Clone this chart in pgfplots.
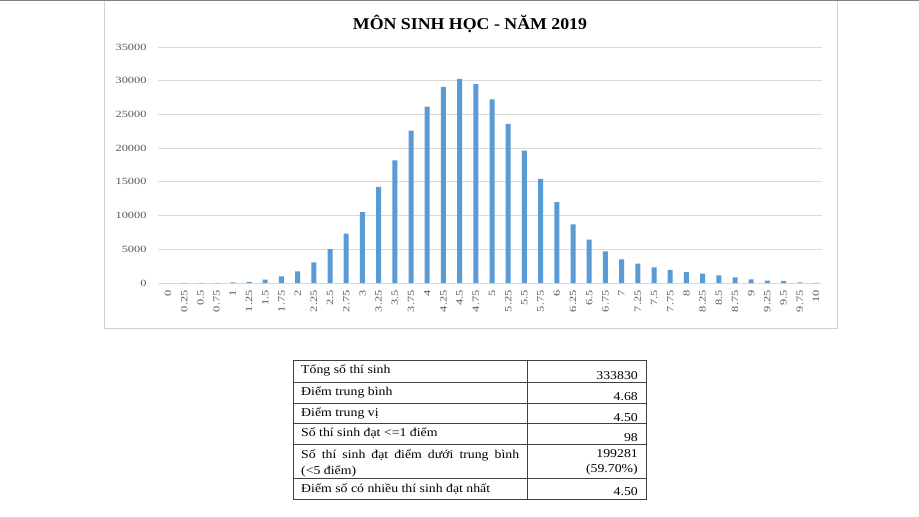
\documentclass[border=0pt]{standalone}
\usepackage{fontspec}
\usepackage{pgfplots}
\usepackage{pgfplotstable}
\pgfplotsset{compat=1.18}
\setmainfont{Liberation Serif}
\newfontfamily\chartfont[FakeStretch=1.3]{Liberation Serif}
\newfontfamily\tabfont[FakeStretch=1.15]{Liberation Serif}
\newfontfamily\titlefont[FakeStretch=1.08]{Liberation Serif}
\definecolor{barblue}{HTML}{5B9BD5}
\definecolor{gridgray}{HTML}{D9D9D9}
\definecolor{ticktext}{HTML}{595959}

% so diem theo tung muc diem (0, 0.25, ..., 10)
\pgfplotstableread{
idx count
0 0
1 2
2 4
3 12
4 80
5 160
6 500
7 1000
8 1730
9 3070
10 5040
11 7320
12 10530
13 14240
14 18200
15 22600
16 26150
17 29070
18 30260
19 29500
20 27250
21 23590
22 19630
23 15430
24 12010
25 8700
26 6430
27 4700
28 3510
29 2870
30 2320
31 1930
32 1630
33 1380
34 1140
35 840
36 540
37 350
38 300
39 100
40 10
}\sinhdata

\begin{document}
\begin{tikzpicture}
  \useasboundingbox (0,0) rectangle (919pt,-517pt);
  \fill[white] (0,0) rectangle (919pt,-517pt);
  % khung bieu do
  \draw[color=black!18, line width=1pt] (104.5pt,0) -- (104.5pt,-328pt) -- (837pt,-328pt) -- (837pt,0);
  \draw[color=black!50, line width=1.2pt] (0,-0.6pt) -- (919pt,-0.6pt);

  \begin{axis}[
      at={(158pt,-283pt)}, anchor=south west,
      scale only axis, width=664pt, height=236pt,
      xmin=-0.62, xmax=40.37, ymin=0, ymax=35000,
      ybar, bar width=5pt,
      axis line style={draw=none},
      ymajorgrids, grid style={gridgray, line width=0.8pt},
      major tick length=0,
      ytick={0,5000,...,35000},
      scaled y ticks=false,
      xtick={0,...,40},
      xticklabels={0,0.25,0.5,0.75,1,1.25,1.5,1.75,2,2.25,2.5,2.75,3,3.25,3.5,3.75,4,4.25,4.5,4.75,5,5.25,5.5,5.75,6,6.25,6.5,6.75,7,7.25,7.5,7.75,8,8.25,8.5,8.75,9,9.25,9.5,9.75,10},
      /pgf/number format/assume math mode=true,
      /pgf/number format/1000 sep={},
      tick label style={font=\chartfont\fontsize{9.5}{10}\selectfont, text=ticktext},
      yticklabel style={xshift=-8pt},
      xticklabel style={rotate=90, anchor=east},
      xticklabel shift=4pt,
    ]
    \addplot[fill=barblue, draw=none] table[x=idx, y=count] {\sinhdata};
  \end{axis}

  \node[anchor=base] at (470pt,-29pt) {\titlefont\bfseries\fontsize{16.5}{18}\selectfont MÔN SINH HỌC - NĂM 2019};

  % bang thong ke
  \draw[color=black!75, line width=0.8pt] (293pt,-360pt) rectangle (646pt,-499pt);
  \draw[color=black!75, line width=0.8pt] (527pt,-360pt) -- (527pt,-499pt);
  \foreach \yy in {382,403,423,444,478}
    \draw[color=black!75, line width=0.8pt] (293pt,-\yy pt) -- (646pt,-\yy pt);

  \begin{scope}[every node/.style={inner sep=0pt, font=\tabfont\fontsize{12}{13}\selectfont}]
    \node[anchor=base west] at (301pt,-373pt) {Tổng số thí sinh};
    \node[anchor=base west] at (301pt,-395pt) {Điểm trung bình};
    \node[anchor=base west] at (301pt,-416pt) {Điểm trung vị};
    \node[anchor=base west] at (301pt,-436pt) {Số thí sinh đạt <=1 điểm};
    \node[anchor=base west] at (301pt,-458pt) {\makebox[218pt][s]{Số thí sinh đạt điểm dưới trung bình}};
    \node[anchor=base west] at (301pt,-474pt) {(<5 điểm)};
    \node[anchor=base west] at (301pt,-492pt) {Điểm số có nhiều thí sinh đạt nhất};
    \node[anchor=base east] at (638pt,-379pt) {333830};
    \node[anchor=base east] at (638pt,-400pt) {4.68};
    \node[anchor=base east] at (638pt,-421pt) {4.50};
    \node[anchor=base east] at (638pt,-441pt) {98};
    \node[anchor=base east] at (638pt,-457pt) {199281};
    \node[anchor=base east] at (638pt,-472pt) {(59.70\%)};
    \node[anchor=base east] at (638pt,-495pt) {4.50};
  \end{scope}
\end{tikzpicture}
\end{document}
